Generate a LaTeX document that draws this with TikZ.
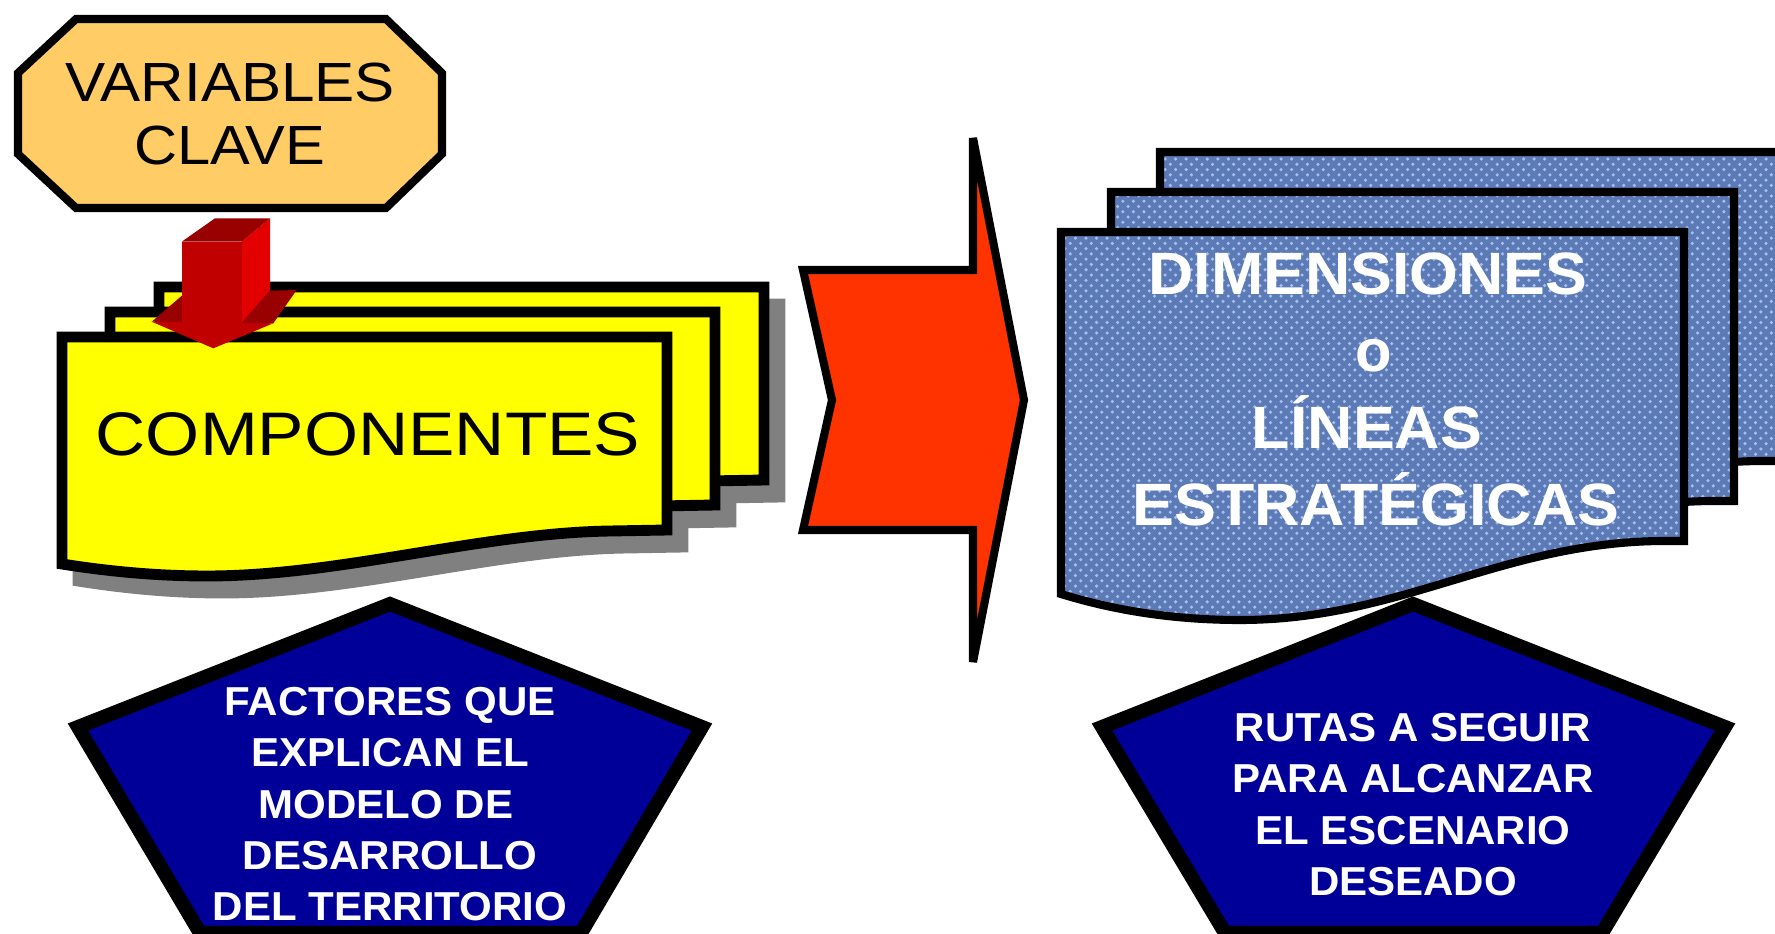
\documentclass[tikz,border=0pt]{standalone}
\usepackage{fontspec}
\setmainfont{Liberation Sans}
\usepackage{graphicx}
\usetikzlibrary{patterns}
\definecolor{octfill}{RGB}{255,204,102}
\definecolor{docyellow}{RGB}{255,255,0}
\definecolor{shadowgray}{RGB}{128,128,128}
\definecolor{arrowfront}{RGB}{192,0,0}
\definecolor{arrowdark}{RGB}{153,0,0}
\definecolor{arrowside}{RGB}{226,0,0}
\definecolor{chevred}{RGB}{255,51,0}
\definecolor{pentblue}{RGB}{0,0,153}
\definecolor{texbase}{RGB}{92,122,182}
\definecolor{texlight}{RGB}{165,192,238}
\tikzset{
  octbox/.style={draw=black, fill=octfill, line width=2.3pt, line join=miter},
  ydoc/.style={draw=black, fill=docyellow, line width=3.1pt, line join=miter},
  yshadow/.style={draw=shadowgray, fill=shadowgray, line width=3.1pt, line join=miter},
  bdoc/.style={draw=black, line width=2.3pt, line join=miter, preaction={fill=texbase}, pattern=crosshatch dots, pattern color=texlight},
  pentbox/.style={draw=black, fill=pentblue, line width=4pt, line join=miter},
  chev/.style={draw=black, fill=chevred, line width=2.3pt, line join=miter},
  ypath/.style={insert path={(62,337) -- (667,337) -- (667,530) -- (610,531) .. controls (480,533) and (340,576) .. (207,576) .. controls (150,576) and (100,570) .. (62,564) -- cycle}},
  bpath/.style={insert path={(1061,232) -- (1684,232) -- (1684,541) -- (1660,541) .. controls (1500,543) and (1400,620) .. (1240,620) .. controls (1160,620) and (1100,606) .. (1061,594) -- cycle}},
  blacktxt/.style={text=black, inner sep=0pt, anchor=base},
  whitetxt/.style={text=white, inner sep=0pt, anchor=base, font=\bfseries\fontsize{17}{20}\selectfont},
  penttxt/.style={text=white, inner sep=0pt, anchor=base, font=\bfseries\fontsize{11.5}{14}\selectfont}
}
\begin{document}
\begin{tikzpicture}[x=0.1mm, y=-0.1mm]
\useasboundingbox (0,0) rectangle (1775,934);
\clip (0,0) rectangle (1775,934);

% Octagon: VARIABLES CLAVE
\filldraw[octbox] (76,19) -- (386,19) -- (442,73) -- (442,154) -- (386,208) -- (76,208) -- (18,154) -- (18,73) -- cycle;
\node[blacktxt, font=\fontsize{15.7}{18}\selectfont] (v1) at (230,101) {\scalebox{1.09}[1]{VARIABLES}};
\node[blacktxt, font=\fontsize{15.7}{18}\selectfont] (v2) at (230,164) {\scalebox{1.08}[1]{CLAVE}};

% Yellow stacked documents with shadow
\filldraw[yshadow, shift={(113,-33)}, ypath];
\filldraw[yshadow, shift={(64,-8)}, ypath];
\filldraw[yshadow, shift={(16,17)}, ypath];
\filldraw[ydoc, shift={(97,-50)}, ypath];
\filldraw[ydoc, shift={(48,-25)}, ypath];
\filldraw[ydoc, ypath];

% Red 3D arrow
\fill[arrowdark] (151.7,321.7) -- (185,293) -- (296.7,290) -- (273.3,323.3) -- cycle;
\fill[arrowfront] (151.7,321.7) -- (273.3,323.3) -- (213.3,348.3) -- cycle;
\fill[arrowside] (241.7,241.7) -- (270,218.3) -- (270,290) -- (241.7,322.5) -- cycle;
\fill[arrowfront] (181.7,241.7) rectangle (241.7,323);
\fill[arrowdark] (181.7,241.7) -- (215,218.3) -- (270,218.3) -- (241.7,241.7) -- cycle;

\node[blacktxt, font=\fontsize{17.5}{20}\selectfont] (comp) at (368,455) {\scalebox{1.13}[1]{COMPONENTES}};

% Red chevron arrow
\filldraw[chev] (803,270) -- (973,270) -- (973,138) -- (1024,400) -- (973,662) -- (973,530) -- (803,530) -- (832,400) -- cycle;

% Blue textured documents
\filldraw[bdoc, shift={(99,-80)}, bpath];
\filldraw[bdoc, shift={(50,-40)}, bpath];
\filldraw[bdoc, bpath];
\node[whitetxt] (d1) at (1368,294.6) {\scalebox{1.05}[1]{DIMENSIONES}};
\node[whitetxt] (d2) at (1374,371) {o};
\node[whitetxt] (d3) at (1367,448) {\scalebox{1.05}[1]{LÍNEAS}};
\node[whitetxt] (d4) at (1376,525) {\scalebox{1.05}[1]{ESTRATÉGICAS}};

% Left pentagon
\filldraw[pentbox] (390,604) -- (702,727) -- (581,933) -- (200,933) -- (78,727) -- cycle;
\node[penttxt] (f1) at (390,715) {\scalebox{1.04}[1]{FACTORES QUE}};
\node[penttxt] (f2) at (390,766.7) {\scalebox{1.04}[1]{EXPLICAN EL}};
\node[penttxt] (f3) at (386,818.3) {\scalebox{1.04}[1]{MODELO DE}};
\node[penttxt] (f4) at (390,869.3) {\scalebox{1.04}[1]{DESARROLLO}};
\node[penttxt] (f5) at (390,920.7) {\scalebox{1.04}[1]{DEL TERRITORIO}};

% Right pentagon
\filldraw[pentbox] (1413,604) -- (1725,727) -- (1602,933) -- (1225,933) -- (1102,727) -- cycle;
\node[penttxt] (r1) at (1413,741.7) {\scalebox{1.04}[1]{RUTAS A SEGUIR}};
\node[penttxt] (r2) at (1413,792.7) {\scalebox{1.04}[1]{PARA ALCANZAR}};
\node[penttxt] (r3) at (1413,844) {\scalebox{1.04}[1]{EL ESCENARIO}};
\node[penttxt] (r4) at (1413,895) {\scalebox{1.04}[1]{DESEADO}};
\end{tikzpicture}
\end{document}
